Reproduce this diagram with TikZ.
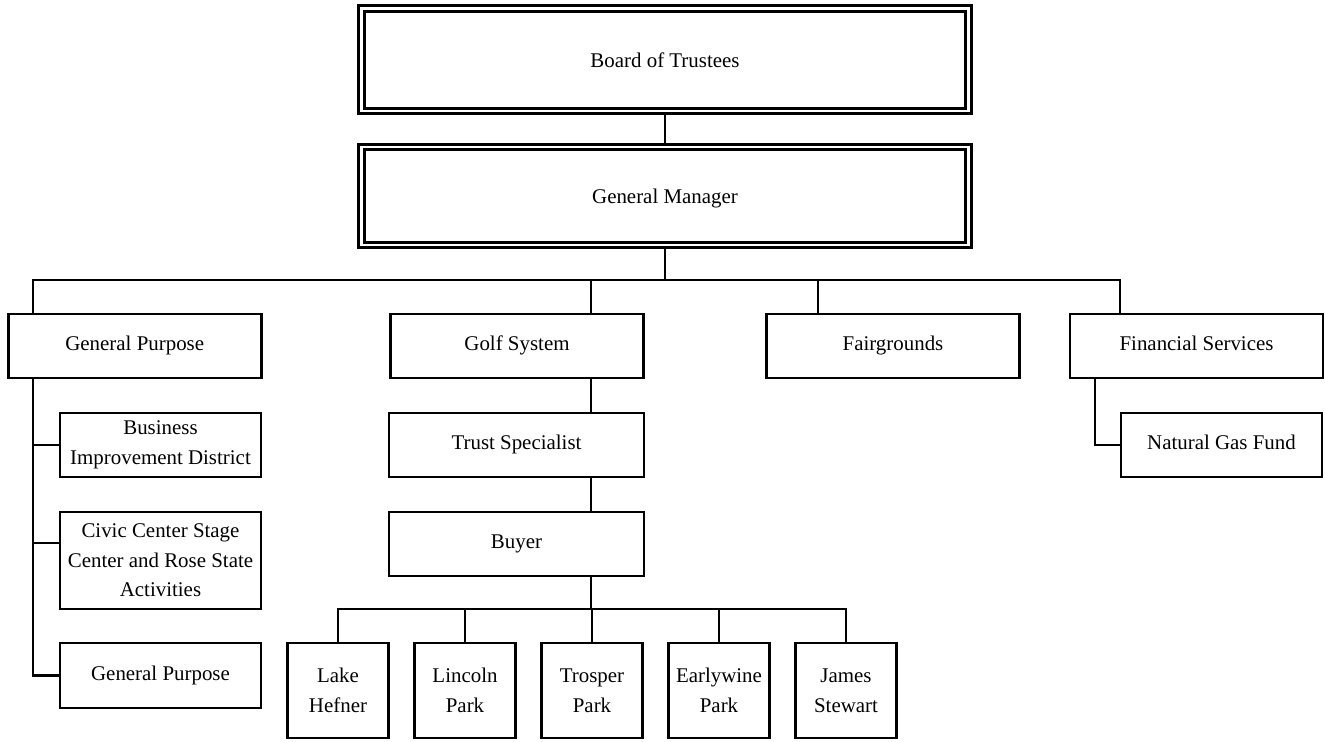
\documentclass[tikz,border=0pt]{standalone}
\usepackage{fontspec}
\setmainfont{Liberation Serif}
\usetikzlibrary{positioning}
\tikzset{
  orgbox/.style={
    rectangle, draw, line width=1.6pt,
    align=center, inner sep=2pt,
    font=\fontsize{11.9}{16.8}\selectfont,
    minimum width=5.06cm, minimum height=1.28cm
  },
  oneline/.style={text height=1.6ex, text depth=0.45ex},
  topbox/.style={
    orgbox, double, line width=1.7pt, double distance=1.4pt,
    text height=2.4ex, text depth=0.45ex,
    minimum width=12.14cm
  },
  subbox/.style={orgbox, minimum width=4.02cm},
  parkbox/.style={orgbox, minimum width=2.02cm, minimum height=1.9cm},
  link/.style={line width=1.6pt}
}

\begin{document}
\begin{tikzpicture}[x=0.02cm, y=-0.02cm]
\useasboundingbox (0,0) rectangle (1325,742);

%% TOP
\node[topbox, minimum height=2.05cm] (board) at (665,59.75) {Board of Trustees};
\node[topbox, minimum height=1.96cm] (manager) at (665,196) {General Manager};

%% FIRST ROW
\node[orgbox, oneline] (general) at (134.75,346) {General Purpose};
\node[orgbox, oneline] (golf) at (517,346) {Golf System};
\node[orgbox, oneline] (fair) at (893,346) {Fairgrounds};
\node[orgbox, oneline] (finance) at (1196.5,346) {Financial Services};

%% GENERAL PURPOSE BRANCH
\node[subbox] (district) at (160.5,445) {Business\\Improvement District};
\node[subbox, minimum height=1.94cm] (civic) at (160.5,560.5) {
  Civic Center Stage\\Center and Rose State\\Activities
};
\node[subbox, oneline, minimum height=1.3cm] (purpose) at (160.5,675.5) {General Purpose};

%% GOLF BRANCH
\node[orgbox, oneline, minimum width=5.1cm] (trust) at (516.5,445) {Trust Specialist};
\node[orgbox, oneline, minimum width=5.1cm] (buyer) at (516.5,544) {Buyer};
\node[parkbox] (hefner) at (338,690.5) {Lake\\Hefner};
\node[parkbox] (lincoln) at (465,690.5) {Lincoln\\Park};
\node[parkbox] (trosper) at (592,690.5) {Trosper\\Park};
\node[parkbox] (earlywine) at (719,690.5) {Earlywine\\Park};
\node[parkbox] (stewart) at (846,690.5) {James\\Stewart};

%% FINANCE BRANCH
\node[subbox, oneline] (gasfund) at (1221.5,445) {Natural Gas Fund};

%% CONNECTORS
\coordinate (gpdrop) at (33,280);
\coordinate (golfdrop) at (591,280);
\coordinate (fairdrop) at (818,280);
\coordinate (findrop) at (1120,280);
\coordinate (parkbus) at (591,609);
\coordinate (fintap) at (1095,445);
\coordinate (civictap) at ([yshift=0.35cm]civic.west);

\draw[link] (board) -- (manager);
\draw[link] (manager.south) -- (manager.south |- gpdrop);
\draw[link] (gpdrop |- general.north) -- (gpdrop) -- (findrop) -- (findrop |- finance.north);
\draw[link] (golfdrop) -- (golfdrop |- golf.north);
\draw[link] (fairdrop) -- (fairdrop |- fair.north);

% general purpose -> units
\draw[link] (gpdrop |- general.south) |- (purpose.west);
\draw[link] (gpdrop |- district.west) -- (district.west);
\draw[link] (gpdrop |- civictap) -- (civictap);

% golf -> trust -> buyer -> parks
\draw[link] (golfdrop |- golf.south) -- (golfdrop |- trust.north);
\draw[link] (golfdrop |- trust.south) -- (golfdrop |- buyer.north);
\draw[link] (golfdrop |- buyer.south) -- (parkbus);
\draw[link] (hefner.north) -- (hefner.north |- parkbus) -- (stewart.north |- parkbus) -- (stewart.north);
\foreach \p in {lincoln, trosper, earlywine}
  \draw[link] (\p.north |- parkbus) -- (\p.north);

% financial services -> gas fund
\draw[link] (fintap |- finance.south) |- (gasfund.west);

\end{tikzpicture}
\end{document}
